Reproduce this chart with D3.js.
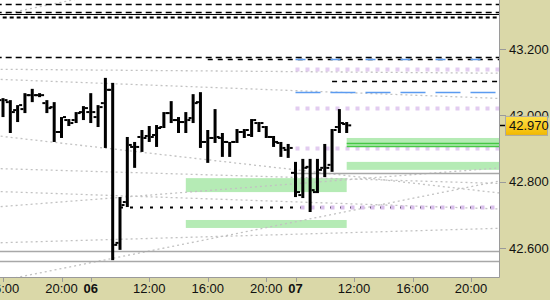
<!DOCTYPE html>
<html>
<head>
<meta charset="utf-8">
<script src="https://cdn.jsdelivr.net/npm/d3@7"></script>
<style>
  body { margin: 0; background: #fff; }
  svg { display: block; }
  text { font-family: "Liberation Sans", Arial, sans-serif; font-size: 13px; fill: #111; }
</style>
</head>
<body>
<div id="chart"></div>
<script>
// 30 minute bars, index 0 = 16:00 on the 5th
var opens  = [43.046, 43.040, 43.016, 43.019, 43.061, 43.061, 43.037, 43.025, 42.950, 42.986, 42.986, 43.010,
              43.010, 42.995, 43.037, 43.077, 42.616, 42.739, 42.905, 42.935, 42.938, 42.941, 42.965, 43.007,
              42.986, 42.980, 42.992, 43.040, 42.920, 42.932, 42.932, 42.920, 42.920, 42.950, 42.941, 42.977,
              42.965, 42.935, 42.917, 42.896, 42.827, 42.760, 42.845, 42.769, 42.842, 42.851, 42.965, 42.974];
var highs  = [43.052, 43.046, 43.031, 43.067, 43.080, 43.067, 43.046, 43.040, 42.995, 42.989, 43.010, 43.028,
              43.067, 43.031, 43.113, 43.098, 42.754, 42.935, 42.920, 42.956, 42.968, 42.971, 43.010, 43.043,
              42.995, 43.010, 43.064, 43.070, 42.956, 43.019, 42.947, 42.920, 42.959, 42.959, 42.989, 42.980,
              42.968, 42.938, 42.920, 42.914, 42.860, 42.869, 42.869, 42.869, 42.914, 42.959, 43.019, 42.980];
var lows   = [42.995, 42.947, 42.980, 43.007, 43.040, 43.055, 43.007, 42.920, 42.932, 42.968, 42.977, 42.986,
              42.977, 42.965, 42.902, 42.564, 42.595, 42.724, 42.842, 42.890, 42.920, 42.905, 42.962, 42.977,
              42.947, 42.947, 42.977, 42.902, 42.857, 42.917, 42.875, 42.875, 42.917, 42.932, 42.935, 42.950,
              42.932, 42.905, 42.875, 42.872, 42.754, 42.751, 42.709, 42.766, 42.814, 42.830, 42.947, 42.947];
var closes = [43.046, 43.010, 43.031, 43.061, 43.061, 43.061, 43.022, 42.950, 42.995, 42.977, 43.007, 43.022,
              43.010, 43.025, 43.077, 42.610, 42.730, 42.911, 42.905, 42.932, 42.935, 42.962, 43.007, 42.986,
              42.980, 42.986, 43.037, 42.920, 42.932, 42.935, 42.920, 42.920, 42.950, 42.956, 42.986, 42.977,
              42.935, 42.920, 42.902, 42.902, 42.769, 42.842, 42.775, 42.836, 42.842, 42.956, 42.977, 42.970];

var lastPrice = 42.970;

// time axis
var timeTicks  = [0, 8, 12, 20, 28, 36, 40, 48, 56, 64];
var timeLabels = ["16:00", "20:00", "06", "12:00", "16:00", "20:00", "07", "12:00", "16:00", "20:00"];
var dayLabels  = ["06", "07"];

// price axis
var priceTicks = [43.2, 43.0, 42.8, 42.6];

// horizontal levels: [price, start bar index, kind]
var levels = [
    [43.336, -1, "dash"],
    [43.310, -1, "dash"],
    [43.305, -1, "solid"],
    [43.295, -1, "short"],
    [43.175, -1, "dash"],
    [43.169, 28, "dash2"],
    [43.170, 40, "blueShort"],
    [43.140, 40, "lavender"],
    [43.104, 45, "dash2"],
    [43.070, 40, "blueLong"],
    [43.022, 40, "lavender"],
    [42.903, 40, "lavender"],
    [42.918, 47, "green"],
    [42.908, 47, "green"],
    [42.827, 40, "gray"],
    [42.724, 16, "dots"],
    [42.724, 40, "lavenderAlt"],
    [42.592, -1, "gray"],
    [42.562, -1, "gray"]
];

// shaded zones: [top price, bottom price, start index, end index]
var zones = [
    [42.932, 42.908, 47, 70],
    [42.860, 42.836, 47, 70],
    [42.811, 42.769, 25, 47],
    [42.685, 42.661, 25, 47]
];

// dotted trend lines: [index1, price1, index2, price2]
var trends = [
    [-1, 43.139, 68, 43.127],
    [-1, 43.109, 68, 43.051],
    [-1, 42.939, 68, 42.766],
    [-1, 42.840, 68, 42.795],
    [-1, 42.724, 68, 42.842],
    [-1, 42.771, 68, 42.718],
    [-1, 42.616, 68, 42.660],
    [-1, 42.499, 68, 42.803],
    [-1, 43.300, 12, 43.359]
];

var W = 550, H = 300, plotW = 499, plotH = 277;

var svg = d3.select("#chart").append("svg")
    .attr("width", W)
    .attr("height", H);

var x = d3.scaleLinear().domain([0, 64]).range([3, 471]);
var y = d3.scaleLinear().domain([42.6, 43.2]).range([248.2, 49]);

// panels
svg.append("rect").attr("x", 0).attr("y", 0).attr("width", W).attr("height", H).attr("fill", "#dad8a8");
svg.append("rect").attr("x", 0).attr("y", 0).attr("width", plotW).attr("height", plotH).attr("fill", "#fff");

svg.append("clipPath").attr("id", "plotclip")
    .append("rect").attr("x", 0).attr("y", 0).attr("width", plotW).attr("height", plotH);

var plot = svg.append("g").attr("clip-path", "url(#plotclip)");

var styles = {
    dash:        { stroke: "#000", width: 1.5, dash: "6,4" },
    solid:       { stroke: "#000", width: 1, dash: null },
    short:       { stroke: "#000", width: 2, dash: "4,3" },
    dash2:       { stroke: "#000", width: 1.5, dash: "5,5" },
    blueShort:   { stroke: "#5b9bf0", width: 1.5, dash: "10,25" },
    blueLong:    { stroke: "#5b9bf0", width: 1.5, dash: "25,10" },
    lavender:    { stroke: "#e2ccf0", width: 4, dash: "4,6" },
    lavenderAlt: { stroke: "#d9bfec", width: 4, dash: "4,6", offset: 5 },
    green:       { stroke: "#45c845", width: 1.5, dash: null },
    gray:        { stroke: "#a8a8a8", width: 1.5, dash: null },
    dots:        { stroke: "#000", width: 2, dash: "3,7" }
};

// zones
plot.selectAll(".zone").data(zones).enter().append("rect")
    .attr("class", "zone")
    .attr("x", d => x(d[2]))
    .attr("width", d => x(d[3]) - x(d[2]))
    .attr("y", d => y(d[0]))
    .attr("height", d => y(d[1]) - y(d[0]))
    .attr("fill", "#b5ebb5");

// trend lines
plot.selectAll(".trend").data(trends).enter().append("line")
    .attr("class", "trend")
    .attr("x1", d => x(d[0])).attr("y1", d => y(d[1]))
    .attr("x2", d => x(d[2])).attr("y2", d => y(d[3]))
    .attr("stroke", "#c2c2c2")
    .attr("stroke-width", 1.3)
    .attr("stroke-dasharray", "2,3");

// levels (lavender drawn before the black dots so they interleave)
plot.selectAll(".level").data(levels).enter().append("line")
    .attr("class", "level")
    .attr("x1", d => x(d[1]))
    .attr("x2", plotW)
    .attr("y1", d => Math.round(y(d[0])) + 0.5)
    .attr("y2", d => Math.round(y(d[0])) + 0.5)
    .attr("stroke", d => styles[d[2]].stroke)
    .attr("stroke-width", d => styles[d[2]].width)
    .attr("stroke-dasharray", d => styles[d[2]].dash)
    .attr("stroke-dashoffset", d => styles[d[2]].offset || 0);

// OHLC bars
var bars = plot.selectAll(".bar").data(opens).enter().append("g").attr("class", "bar");
bars.append("rect")
    .attr("x", (d, i) => x(i) - 1.5)
    .attr("width", 3)
    .attr("y", (d, i) => y(highs[i]))
    .attr("height", (d, i) => y(lows[i]) - y(highs[i]))
    .attr("fill", "#000");
bars.append("rect")
    .attr("x", (d, i) => x(i) - 4.5)
    .attr("width", 3)
    .attr("y", (d, i) => y(opens[i]) - 1)
    .attr("height", 2)
    .attr("fill", "#000");
bars.append("rect")
    .attr("x", (d, i) => x(i) + 1.5)
    .attr("width", 3)
    .attr("y", (d, i) => y(closes[i]) - 1)
    .attr("height", 2)
    .attr("fill", "#000");

// frame
svg.append("line").attr("x1", plotW + 0.5).attr("x2", plotW + 0.5).attr("y1", 0).attr("y2", plotH + 0.5)
    .attr("stroke", "#9a9a9a");
svg.append("line").attr("x1", 0).attr("x2", plotW + 0.5).attr("y1", plotH + 0.5).attr("y2", plotH + 0.5)
    .attr("stroke", "#9a9a9a");

// price axis
var py = svg.append("g");
py.selectAll(".ptick").data(priceTicks).enter().append("line")
    .attr("x1", plotW + 1).attr("x2", plotW + 7)
    .attr("y1", d => Math.round(y(d)) + 0.5).attr("y2", d => Math.round(y(d)) + 0.5)
    .attr("stroke", "#9a9a9a");
py.selectAll(".plabel").data(priceTicks).enter().append("text")
    .attr("x", 509)
    .attr("y", d => y(d) + 4.5)
    .text(d => d3.format(".3f")(d));

// last price marker
var ly = y(lastPrice);
svg.append("line").attr("x1", plotW + 1).attr("x2", plotW + 7)
    .attr("y1", Math.round(ly) + 0.5).attr("y2", Math.round(ly) + 0.5)
    .attr("stroke", "#000").attr("stroke-width", 1.5);
var grad = svg.append("defs").append("linearGradient").attr("id", "gold")
    .attr("x1", 0).attr("y1", 0).attr("x2", 0).attr("y2", 1);
grad.append("stop").attr("offset", 0).attr("stop-color", "#ffe24a");
grad.append("stop").attr("offset", 1).attr("stop-color", "#f2b800");
svg.append("rect")
    .attr("x", 505.5).attr("y", ly - 9)
    .attr("width", 42).attr("height", 19)
    .attr("fill", "url(#gold)")
    .attr("stroke", "#a9a9a9");
svg.append("text")
    .attr("x", 509).attr("y", ly + 5)
    .text(d3.format(".3f")(lastPrice));

// time axis
var tx = svg.append("g");
tx.selectAll(".ttick").data(timeTicks).enter().append("line")
    .attr("x1", d => Math.round(x(d)) + 0.5).attr("x2", d => Math.round(x(d)) + 0.5)
    .attr("y1", plotH + 1).attr("y2", plotH + 5)
    .attr("stroke", "#9a9a9a");
tx.selectAll(".tlabel").data(timeTicks).enter().append("text")
    .attr("x", d => x(d))
    .attr("y", 293)
    .attr("text-anchor", "middle")
    .style("font-weight", (d, i) => dayLabels.includes(timeLabels[i]) ? "bold" : null)
    .text((d, i) => timeLabels[i]);
</script>
</body>
</html>
